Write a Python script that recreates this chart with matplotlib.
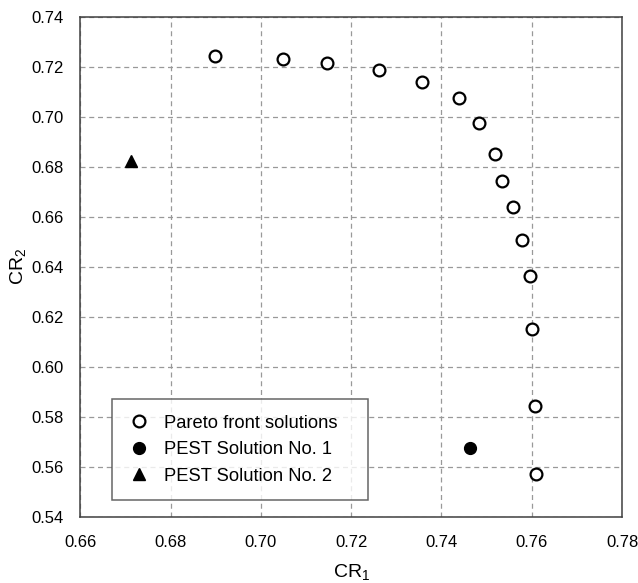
import matplotlib
matplotlib.use("Agg")
import matplotlib.pyplot as plt
from matplotlib.ticker import FormatStrFormatter

plt.rcParams['font.family'] = ['Liberation Sans', 'DejaVu Sans']
plt.rcParams['mathtext.fontset'] = 'custom'
plt.rcParams['mathtext.rm'] = 'Liberation Sans'

# Pareto front (CR1, CR2)
pareto_cr1 = [0.6898, 0.7048, 0.7147, 0.7262, 0.7356, 0.7438, 0.7482, 0.7518,
              0.7535, 0.7558, 0.7579, 0.7597, 0.7600, 0.7607, 0.7609]
pareto_cr2 = [0.7244, 0.7232, 0.7216, 0.7187, 0.7138, 0.7074, 0.6976, 0.6851,
              0.6743, 0.6640, 0.6507, 0.6363, 0.6152, 0.5843, 0.5571]

# PEST solutions
pest1_cr1 = [0.7464]
pest1_cr2 = [0.5675]
pest2_cr1 = [0.6712]
pest2_cr2 = [0.6822]

x_ticks = [0.66, 0.68, 0.70, 0.72, 0.74, 0.76, 0.78]
y_ticks = [0.54, 0.56, 0.58, 0.60, 0.62, 0.64, 0.66, 0.68, 0.70, 0.72, 0.74]

fig = plt.figure(figsize=(6.38, 5.83), dpi=100)
ax = fig.add_axes([0.126, 0.1137, 0.849, 0.8577])

ax.plot(pareto_cr1, pareto_cr2, linestyle='none', marker='o', markersize=8.5,
        markerfacecolor='white', markeredgecolor='black', markeredgewidth=1.6,
        label='Pareto front solutions', zorder=3)
ax.plot(pest1_cr1, pest1_cr2, linestyle='none', marker='o', markersize=8.5,
        markerfacecolor='black', markeredgecolor='black',
        label='PEST Solution No. 1', zorder=3)
ax.plot(pest2_cr1, pest2_cr2, linestyle='none', marker='^', markersize=8.5,
        markerfacecolor='black', markeredgecolor='black',
        label='PEST Solution No. 2', zorder=3)

ax.set_xlim(0.66, 0.78)
ax.set_ylim(0.54, 0.74)
ax.set_xticks(x_ticks)
ax.set_yticks(y_ticks)
ax.xaxis.set_major_formatter(FormatStrFormatter('%.2f'))
ax.yaxis.set_major_formatter(FormatStrFormatter('%.2f'))
ax.tick_params(length=0, labelsize=12, colors='black')
ax.tick_params(axis='x', pad=13)
ax.tick_params(axis='y', pad=12)

ax.grid(True, color='#999999', linestyle=(0, (4, 3)), linewidth=0.9)
ax.set_axisbelow(True)
for sp in ax.spines.values():
    sp.set_color('#404040')
    sp.set_linewidth(1.1)

ax.set_xlabel('CR$_1$', fontsize=14, labelpad=9)
ax.set_ylabel('CR$_2$', fontsize=14, labelpad=2)

leg = ax.legend(loc='upper left', bbox_to_anchor=(0.0578, 0.0314, 0.4737, 0.204),
                mode='expand', fontsize=13.2,
                frameon=True, fancybox=False, edgecolor='#404040',
                borderpad=0.85, handletextpad=0.7, labelspacing=0.52,
                handlelength=1.3, borderaxespad=0)
leg.get_frame().set_linewidth(1.1)

fig.savefig('out.png', dpi=100)
